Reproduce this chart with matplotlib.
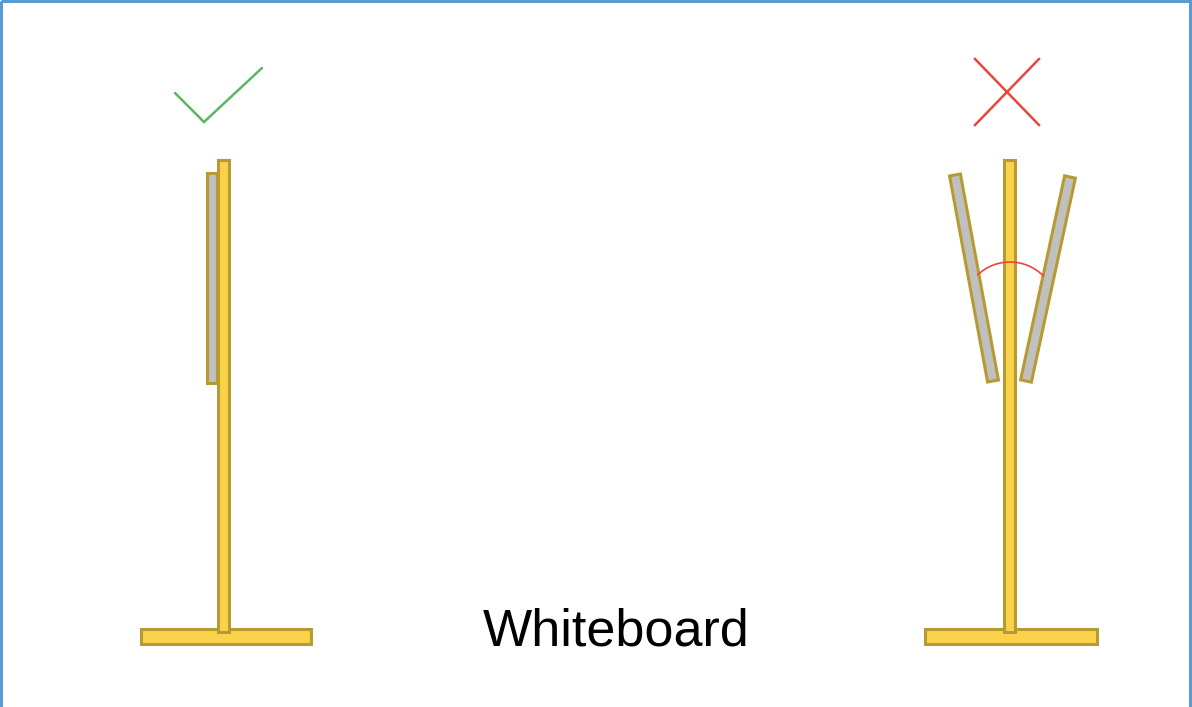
"""
Whiteboard stand diagram: board flush against the pole (ok) vs. boards tilted (not ok)
"""

import matplotlib
matplotlib.use("Agg")
import matplotlib.pyplot as plt
from matplotlib.patches import Rectangle, Polygon, Arc
import numpy as np


# ----------------------------------------------------------
# Geometry (pixel space, y grows downward)
# ----------------------------------------------------------

canvas_size = [1192, 707]

left_pole = [218, 160, 11, 472]          # x, y, w, h
left_board = [207, 173, 10, 210]
left_base = [141, 629, 170, 15]
check_mark_x = [175, 204, 262]
check_mark_y = [93, 122, 68]

right_pole = [1004, 160, 11, 472]
right_base = [925, 629, 172, 15]
tilted_boards = [
    [(955, 175), (993, 381)],
    [(1070, 177), (1026, 381)],
]
board_width = 11
cross_x = [975, 1039]
cross_y = [59, 125]
angle_arc = [1010, 309, 47, 44, 134]     # cx, cy, r, theta1, theta2

label_text = "Whiteboard"
label_pos = [616, 646]

# ----------------------------------------------------------
# Colors
# ----------------------------------------------------------

YELLOW = "#fad34a"
GOLD_EDGE = "#b89a34"
GRAY = "#c0c0c0"
GREEN = "#5cb562"
RED = "#e8473d"
BLUE = "#5b9bd5"


fig = plt.figure(figsize=(11.92, 7.07), dpi=100)
ax = fig.add_axes([0, 0, 1, 1])
ax.set_xlim(0, canvas_size[0])
ax.set_ylim(canvas_size[1], 0)
ax.axis("off")


def bar(rect, face):
    x, y, w, h = rect
    ax.add_patch(Rectangle((x, y), w, h, facecolor=face,
                           edgecolor=GOLD_EDGE, linewidth=2.2))


def tilted(p0, p1, width, face):
    p0 = np.array(p0, float)
    p1 = np.array(p1, float)
    d = p1 - p0
    n = np.array([-d[1], d[0]]) / np.hypot(*d) * width / 2
    pts = [p0 + n, p1 + n, p1 - n, p0 - n]
    ax.add_patch(Polygon(pts, closed=True, facecolor=face,
                         edgecolor=GOLD_EDGE, linewidth=2.2))


# ----------------------------------------------------------
# Left stand (correct)
# ----------------------------------------------------------

bar(left_base, YELLOW)
bar(left_board, GRAY)
bar(left_pole, YELLOW)

ax.plot(check_mark_x, check_mark_y, color=GREEN, linewidth=1.8,
        solid_capstyle="round", solid_joinstyle="miter")

# ----------------------------------------------------------
# Right stand (wrong)
# ----------------------------------------------------------

bar(right_base, YELLOW)
bar(right_pole, YELLOW)

for p0, p1 in tilted_boards:
    tilted(p0, p1, board_width, GRAY)

cx, cy, r, t1, t2 = angle_arc
# y axis is inverted, so angles are mirrored
ax.add_patch(Arc((cx, cy), 2 * r, 2 * r, theta1=-t2, theta2=-t1,
                 color=RED, linewidth=1.2))

ax.plot(cross_x, cross_y, color=RED, linewidth=1.8)
ax.plot(cross_x, cross_y[::-1], color=RED, linewidth=1.8)

# ----------------------------------------------------------
# Label and frame
# ----------------------------------------------------------

ax.text(label_pos[0], label_pos[1], label_text, fontsize=37.5,
        family=["Liberation Sans", "DejaVu Sans"],
        ha="center", va="baseline", color="black")

ax.add_patch(Rectangle((1, 1), 1189, 760, fill=False,
                       edgecolor=BLUE, linewidth=2.2, clip_on=False))

fig.savefig("out.png", dpi=100)
